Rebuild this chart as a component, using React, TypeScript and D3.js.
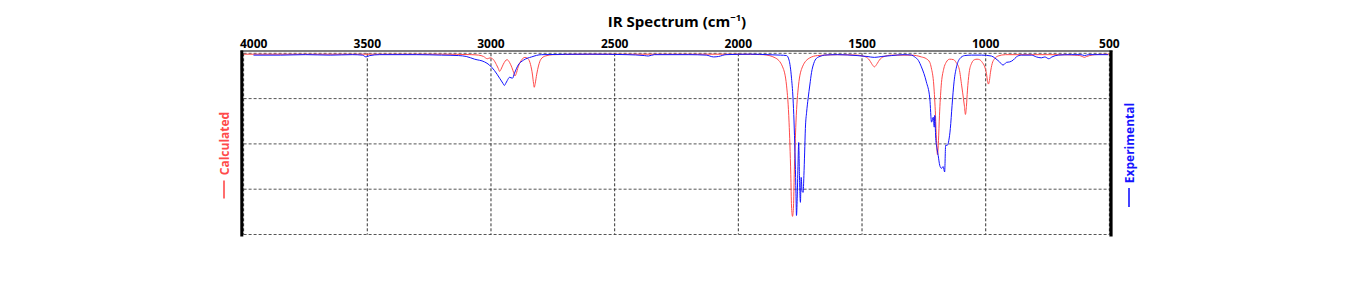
import React from "react";
import * as d3 from "d3";

// Tick labels along the top wavenumber axis
const xTicks = [4000, 3500, 3000, 2500, 2000, 1500, 1000, 500];
const yGrid = [0, 1, 2, 3, 4];

// Calculated spectrum [wavenumber cm-1, absorbance-like depth]
const calculated: [number, number][] = [
  [4000, 0.02], [3200, 0.02], [3080, 0.03], [3050, 0.04], [3030, 0.07], [3015, 0.12], [3003, 0.1],
  [2990, 0.14], [2978, 0.25], [2970, 0.34], [2965, 0.4], [2960, 0.36], [2950, 0.24], [2935, 0.14],
  [2925, 0.2], [2915, 0.32], [2908, 0.43], [2903, 0.5], [2898, 0.45], [2890, 0.3], [2878, 0.16],
  [2862, 0.09], [2850, 0.12], [2840, 0.25], [2832, 0.48], [2828, 0.66], [2825, 0.75], [2821, 0.66],
  [2815, 0.46], [2808, 0.28], [2798, 0.13], [2780, 0.06], [2750, 0.03], [2600, 0.02], [2000, 0.02],
  [1900, 0.03], [1851, 0.1], [1821, 0.3], [1805, 0.72], [1795, 1.52], [1788, 2.67], [1785, 3.37],
  [1781, 3.6], [1777, 3.37], [1774, 2.67], [1767, 1.52], [1757, 0.72], [1741, 0.3], [1711, 0.1],
  [1680, 0.05], [1600, 0.03], [1520, 0.04], [1485, 0.08], [1470, 0.15], [1462, 0.22], [1456, 0.27],
  [1450, 0.3], [1444, 0.27], [1438, 0.22], [1430, 0.15], [1415, 0.08], [1380, 0.04], [1300, 0.04],
  [1260, 0.08], [1240, 0.12], [1226, 0.2], [1220, 0.32], [1210, 0.7], [1203, 1.37], [1199, 1.92],
  [1195, 2.24], [1191, 1.93], [1187, 1.38], [1180, 0.72], [1170, 0.35], [1160, 0.2], [1146, 0.13],
  [1130, 0.14], [1120, 0.2], [1107, 0.35], [1097, 0.72], [1090, 1.0], [1086, 1.17], [1082, 1.35],
  [1078, 1.17], [1074, 0.83], [1067, 0.43], [1057, 0.22], [1045, 0.14], [1035, 0.13], [1025, 0.14],
  [1014, 0.2], [1004, 0.3], [997, 0.45], [993, 0.6], [989, 0.68], [985, 0.6], [981, 0.43],
  [974, 0.23], [964, 0.12], [950, 0.06], [920, 0.03], [700, 0.03], [640, 0.04], [620, 0.05],
  [610, 0.07], [601, 0.09], [592, 0.07], [580, 0.05], [560, 0.03], [500, 0.02],
];

// Experimental spectrum [wavenumber cm-1, depth]
const experimental: [number, number][] = [
  [3960, 0.04], [3850, 0.04], [3750, 0.03], [3650, 0.04], [3560, 0.03], [3520, 0.04], [3505, 0.08],
  [3490, 0.05], [3450, 0.03], [3300, 0.03], [3200, 0.04], [3131, 0.05], [3100, 0.07], [3066, 0.13],
  [3026, 0.19], [3006, 0.26], [2986, 0.38], [2965, 0.55], [2952, 0.66], [2946, 0.71], [2940, 0.66],
  [2934, 0.6], [2925, 0.53], [2913, 0.55], [2905, 0.44], [2890, 0.26], [2868, 0.15], [2836, 0.08],
  [2796, 0.03], [2600, 0.02], [2450, 0.03], [2380, 0.05], [2364, 0.06], [2340, 0.03], [2200, 0.03],
  [2130, 0.04], [2100, 0.08], [2080, 0.07], [2050, 0.03], [1950, 0.02], [1880, 0.03], [1830, 0.04],
  [1805, 0.05], [1795, 0.15], [1785, 0.55], [1778, 1.1], [1774, 1.65], [1770, 2.4], [1767, 3.1],
  [1765, 3.58], [1762, 3.2], [1759, 2.5], [1756, 1.97], [1753, 2.7], [1749, 3.29], [1746, 2.74],
  [1742, 3.05], [1738, 3.07], [1735, 2.7], [1732, 2.2], [1729, 1.66], [1724, 1.3], [1718, 1.0],
  [1711, 0.7], [1704, 0.42], [1695, 0.22], [1684, 0.11], [1665, 0.06], [1652, 0.04], [1600, 0.03],
  [1520, 0.05], [1480, 0.07], [1450, 0.09], [1420, 0.07], [1380, 0.05], [1330, 0.03], [1300, 0.04],
  [1287, 0.08], [1272, 0.16], [1260, 0.3], [1240, 0.63], [1226, 1.0], [1219, 1.52], [1212, 1.41],
  [1208, 1.63], [1206, 1.37], [1202, 1.88], [1197, 2.1], [1192, 2.26], [1186, 2.47], [1179, 2.54],
  [1172, 2.5], [1166, 2.62], [1162, 2.03], [1155, 2.03], [1149, 1.92], [1143, 1.66], [1136, 1.15],
  [1128, 0.63], [1118, 0.3], [1105, 0.12], [1085, 0.05], [1058, 0.04], [1017, 0.04], [977, 0.06],
  [964, 0.1], [944, 0.19], [930, 0.26], [916, 0.2], [903, 0.19], [889, 0.15], [876, 0.08],
  [856, 0.04], [815, 0.04], [795, 0.08], [775, 0.1], [761, 0.08], [745, 0.12], [732, 0.08],
  [707, 0.04], [654, 0.03], [615, 0.03], [600, 0.05], [585, 0.03], [505, 0.03],
];

const W = 1353;
const H = 288;
const X0 = 243.6;
const X1 = 1109.4;
const Y0 = 53.3;
const Y1 = 234.5;
const FONT = "'Open Sans', 'Noto Sans', sans-serif";
const RED = "#ff4a4a";
const BLUE = "#1414ff";

export default function App() {
  const x = d3.scaleLinear().domain([4000, 500]).range([X0, X1]);
  const y = d3.scaleLinear().domain([0, 4]).range([Y0, Y1]);
  const line = d3
    .line<[number, number]>()
    .x((d) => x(d[0]))
    .y((d) => y(d[1]))
    .curve(d3.curveMonotoneX);

  return (
    <svg
      width={W}
      height={H}
      style={{ position: "absolute", left: 0, top: 0, background: "#fff" }}
      fontFamily={FONT}
    >
      {/* grid */}
      {yGrid.map((g) => (
        <line key={"h" + g} x1={X0} x2={X1} y1={y(g)} y2={y(g)} stroke="#555" strokeWidth={1} strokeDasharray="3,2" />
      ))}
      {xTicks.map((t) => (
        <line key={"v" + t} x1={x(t)} x2={x(t)} y1={Y0} y2={Y1} stroke="#333" strokeWidth={1} strokeDasharray="3,2" />
      ))}

      {/* spectra */}
      <path d={line(calculated) || ""} fill="none" stroke={RED} strokeWidth={1} />
      <path d={line(experimental) || ""} fill="none" stroke={BLUE} strokeWidth={1} />

      {/* spines */}
      <line x1={240.5} x2={1112.5} y1={51} y2={51} stroke="#000" strokeWidth={1.2} />
      <line x1={241.8} x2={241.8} y1={50.5} y2={236.5} stroke="#000" strokeWidth={3} />
      <line x1={1111} x2={1111} y1={50.5} y2={236.5} stroke="#000" strokeWidth={3.2} />

      {/* tick labels */}
      {xTicks.map((t, i) => (
        <text
          key={"t" + t}
          x={i === 0 ? 240 : x(t)}
          y={48}
          textAnchor={i === 0 ? "start" : "middle"}
          fontSize={12}
          fontWeight="bold"
          fill="#000"
        >
          {t}
        </text>
      ))}

      {/* title */}
      <text x={677} y={26.5} textAnchor="middle" fontSize={15} fontWeight="bold" fill="#000">
        IR Spectrum (cm
        <tspan fontSize={9.5} dy={-5.5}>−1</tspan>
        <tspan dy={5.5}>)</tspan>
      </text>

      {/* side legends */}
      <g transform="translate(224,143.5) rotate(-90)">
        <text x={0} y={4.5} textAnchor="middle" fontSize={12} fontWeight="bold" fill={RED}>
          Calculated
        </text>
        <line x1={-37} x2={-55} y1={0} y2={0} stroke={RED} strokeWidth={1.6} />
      </g>
      <g transform="translate(1129,143) rotate(-90)">
        <text x={0} y={4.5} textAnchor="middle" fontSize={12} fontWeight="bold" fill={BLUE}>
          Experimental
        </text>
        <line x1={-45} x2={-64} y1={0} y2={0} stroke={BLUE} strokeWidth={1.6} />
      </g>
    </svg>
  );
}
